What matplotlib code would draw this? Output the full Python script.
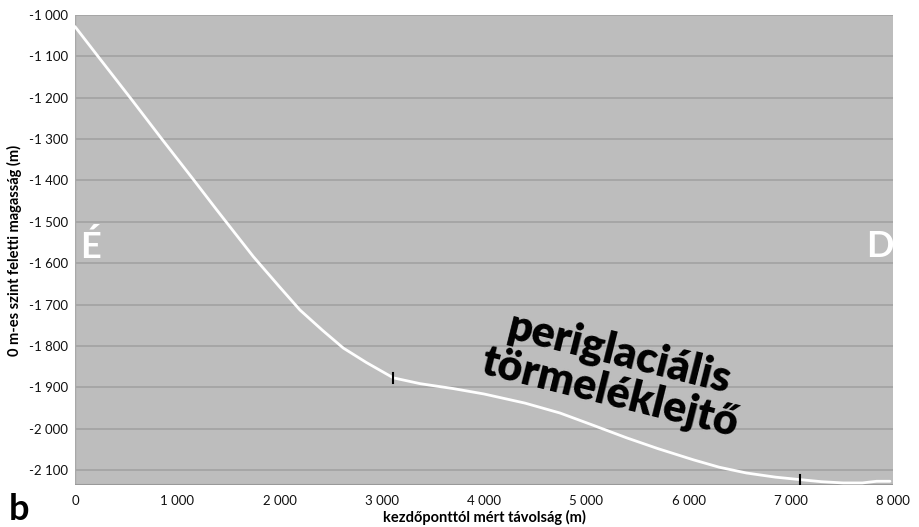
import matplotlib
matplotlib.use("Agg")
import matplotlib.pyplot as plt
from matplotlib.ticker import FuncFormatter

# data (distance m, elevation m)
dist = [0, 225, 540, 850, 1165, 1386, 1744, 2000, 2200, 2420, 2624, 2850, 3113, 3374,
        3700, 4000, 4400, 4743, 5050, 5395, 5700, 6046, 6300, 6567, 6850, 7091, 7300, 7513, 7700, 7840, 7970]
elev = [-1028, -1100, -1200, -1300, -1400, -1471, -1584, -1657, -1713, -1762, -1805, -1840, -1877, -1891,
        -1903, -1916, -1938, -1962, -1990, -2022, -2048, -2075, -2093, -2107, -2117, -2123, -2128, -2131, -2131, -2127, -2127]
marks_x = [3110, 7090]
marks_y = [-1877, -2123]
xticks = [0, 1000, 2000, 3000, 4000, 5000, 6000, 7000, 8000]
yticks = [-1000, -1100, -1200, -1300, -1400, -1500, -1600, -1700, -1800, -1900, -2000, -2100]

plt.rcParams['font.family'] = ['Lato', 'DejaVu Sans']

fig = plt.figure(figsize=(9.19, 5.27), dpi=100)
ax = fig.add_axes([75/919, 1-485/527, (893-75)/919, (485-15)/527])
ax.set_facecolor('#bdbdbd')
ax.set_xlim(0, 8000)
ax.set_ylim(-2136, -1000)

fmt = FuncFormatter(lambda v, p: f"{int(v):,}".replace(",", " "))
ax.set_xticks(xticks)
ax.set_yticks(yticks)
ax.xaxis.set_major_formatter(fmt)
ax.yaxis.set_major_formatter(fmt)
ax.tick_params(length=0, labelsize=9.5, colors='#111111')
ax.tick_params(axis='x', pad=7)
ax.tick_params(axis='y', pad=5)
ax.grid(axis='y', color='#a2a2a2', lw=1.2)
ax.set_axisbelow(True)
for s in ax.spines.values():
    s.set_visible(False)
ax.axvline(0, color='#a8a8a8', lw=1)
ax.axhline(-2136, color='#999999', lw=1.5)

ax.plot(dist, elev, color='white', lw=2, solid_capstyle='round')
for mx, my in zip(marks_x, marks_y):
    ax.plot([mx, mx], [my - 12, my + 12], color='black', lw=1.5)

ax.set_xlabel('kezdőponttól mért távolság (m)', fontsize=10.5, fontweight='bold', labelpad=2)
ax.set_ylabel('0 m-es szint feletti magasság (m)', fontsize=10.5, fontweight='bold', labelpad=5)

ax.text(150, -1560, 'É', color='white', fontsize=26, fontweight='bold', ha='center', va='center')
ax.text(7870, -1560, 'D', color='white', fontsize=26, fontweight='bold', ha='center', va='center')
ax.text(5280, -1865, 'periglaciális\ntörmeléklejtő', color='black', fontsize=31, fontweight='heavy',
        ha='center', va='center', rotation=-14, linespacing=1.0, rotation_mode='anchor',
        multialignment='center')

fig.text(19/919, 1-510/527, 'b', fontsize=26, fontweight='bold', va='center', ha='center')

fig.savefig('out.png', dpi=100)
